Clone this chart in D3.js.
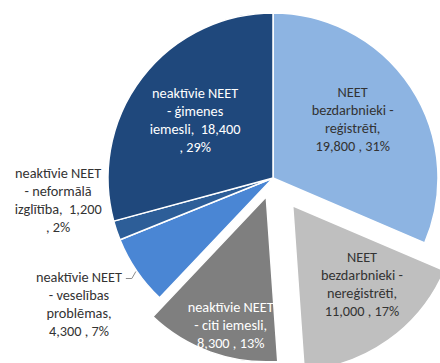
<!DOCTYPE html>
<html>
<head>
<meta charset="utf-8">
<script src="https://cdn.jsdelivr.net/npm/d3@7"></script>
<style>
  html, body { margin: 0; padding: 0; background: #fff; }
  svg { display: block; }
  text { font-family: Carlito, Lato, "Open Sans", sans-serif; }
</style>
</head>
<body>
<svg id="chart" width="440" height="363"></svg>
<script>
// NEET structure: slices in drawing order (clockwise from 12 o'clock)
const categories = [
  ["NEET", "bezdarbnieki -", "reģistrēti,"],
  ["NEET", "bezdarbnieki -", "nereģistrēti,"],
  ["neaktīvie NEET", "- citi iemesli,"],
  ["neaktīvie NEET", "- veselības", "problēmas,"],
  ["neaktīvie NEET", "- neformālā", "izglītība,  "],
  ["neaktīvie NEET", "- ģimenes", "iemesli,  "]
];
const values = [19800, 11000, 8300, 4300, 1200, 18400];
const percentLabels = ["31%", "17%", "13%", "7%", "2%", "29%"];

// styling / layout per slice
const colors = ["#8db4e2", "#bfbfbf", "#7f7f7f", "#4a86d4", "#2d5e98", "#1f487c"];
const textColors = ["#333333", "#333333", "#ffffff", "#333333", "#333333", "#ffffff"];
const explode = [0, 34, 20, 0, 0, 0];
// label anchor: [angle in degrees clockwise from top, distance from slice apex]
const labelAt = [[53.6, 99], [138.5, 104.6], [195.5, 133], [236.9, 231.6], [264.1, 216], [306.6, 97]];

const cx = 273, cy = 178, R = 165, lineH = 18, fontSize = 14.3;
const fmt = d3.format(",");

const svg = d3.select("#chart");
const pie = d3.pie().sort(null).value(d => d)(values);
const arc = d3.arc().innerRadius(0).outerRadius(R);

const g = svg.append("g").attr("transform", `translate(${cx},${cy})`);

const slices = g.selectAll("g.slice").data(pie).join("g")
  .attr("class", "slice")
  .attr("transform", (d, i) => {
    const mid = (d.startAngle + d.endAngle) / 2;
    return `translate(${explode[i] * Math.sin(mid)},${-explode[i] * Math.cos(mid)})`;
  });

slices.append("path")
  .attr("d", arc)
  .attr("fill", (d, i) => colors[i])
  .attr("stroke", "#fff")
  .attr("stroke-width", 1.5)
  .attr("stroke-linejoin", "round");

// labels: category lines, then value and percent
slices.each(function(d, i) {
  const lines = categories[i].slice();
  const last = lines.length - 1;
  const valueText = fmt(values[i]) + " , " + percentLabels[i];
  if (i === 4 || i === 5) {
    lines[last] = lines[last] + fmt(values[i]);
    lines.push(", " + percentLabels[i]);
  } else {
    lines.push(valueText);
  }
  const a = labelAt[i][0] * Math.PI / 180, r = labelAt[i][1];
  const lx = r * Math.sin(a), ly = -r * Math.cos(a);
  const t = d3.select(this).append("text")
    .attr("text-anchor", "middle")
    .attr("font-size", fontSize)
    .attr("fill", textColors[i]);
  const y0 = ly - (lines.length - 1) * lineH / 2;
  lines.forEach((s, k) => {
    t.append("tspan")
      .attr("x", lx)
      .attr("y", y0 + k * lineH)
      .attr("dy", "0.35em")
      .attr("xml:space", "preserve")
      .style("white-space", "pre")
      .text(s);
  });
});

// leader line for the health-problems label
{
  const d = pie[3];
  const mid = (d.startAngle + d.endAngle) / 2;
  const px = (R + 1) * Math.sin(mid), py = -(R + 1) * Math.cos(mid);
  g.append("path")
    .attr("d", `M${px},${py} L${px - 4},${py + 7} L${px - 10},${py + 7}`)
    .attr("fill", "none")
    .attr("stroke", "#8c8c8c")
    .attr("stroke-width", 1);
}
</script>
</body>
</html>
